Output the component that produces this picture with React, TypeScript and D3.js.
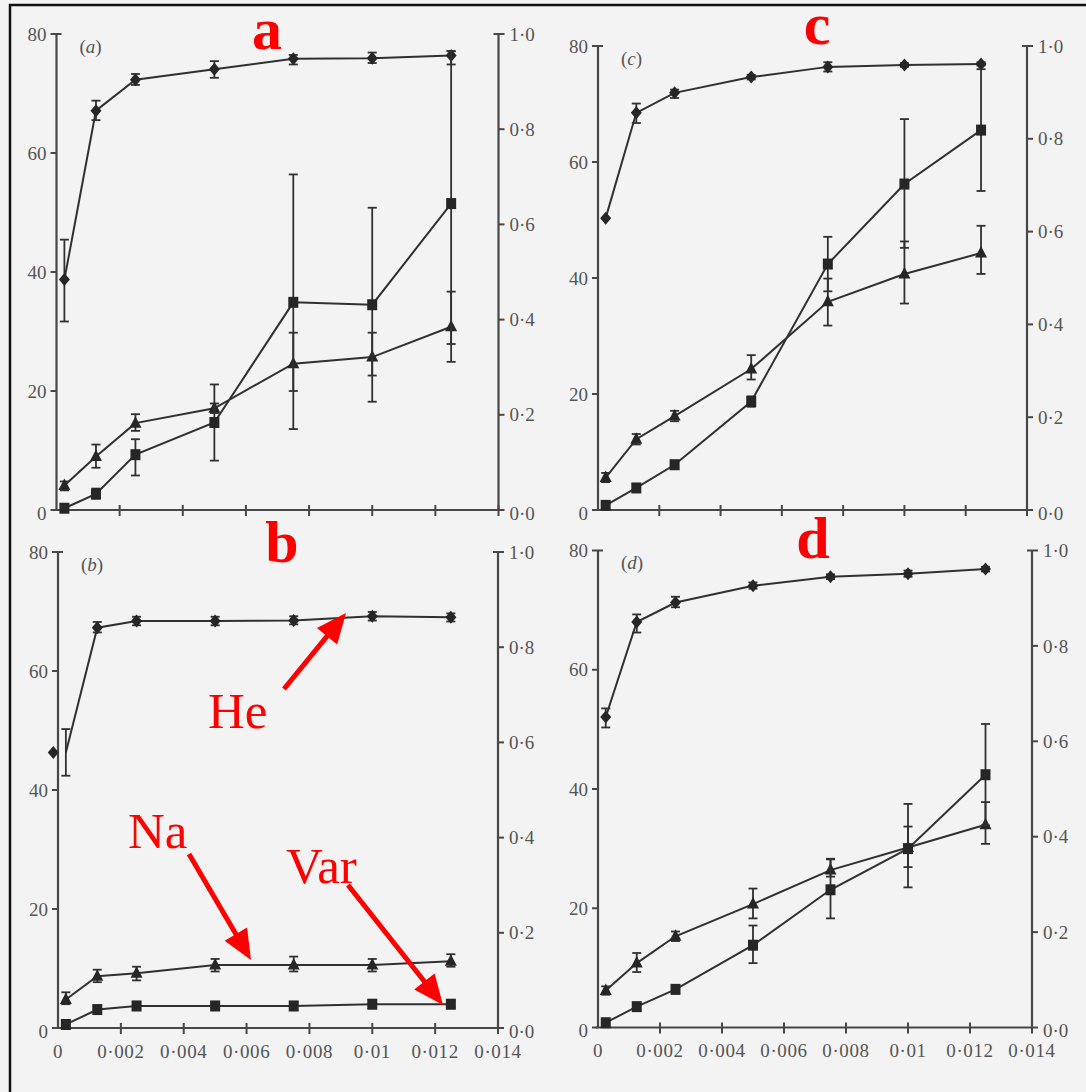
import React from "react";
import * as d3 from "d3";

// ---------- DATA ----------
const xValues = [0.00025, 0.00125, 0.0025, 0.005, 0.0075, 0.01, 0.0125];
const xTickValues = [0, 0.002, 0.004, 0.006, 0.008, 0.01, 0.012, 0.014];
const xTickLabels = ["0", "0·002", "0·004", "0·006", "0·008", "0·01", "0·012", "0·014"];
const leftTickValues = [0, 20, 40, 60, 80];
const leftTickLabels = ["0", "20", "40", "60", "80"];
const rightTickValues = [0, 0.2, 0.4, 0.6, 0.8, 1.0];
const rightTickLabels = ["0·0", "0·2", "0·4", "0·6", "0·8", "1·0"];

// He (right axis, 0-1), Na and Var (left axis, 0-80)
const heA = [0.484, 0.839, 0.904, 0.926, 0.948, 0.949, 0.955];
const heALo = [0.396, 0.819, 0.893, 0.908, 0.936, 0.939, 0.936];
const heAHi = [0.568, 0.86, 0.916, 0.943, 0.956, 0.961, 0.964];
const naA = [4.1, 9.0, 14.6, 17.1, 24.6, 25.7, 30.8];
const naALo = [3.3, 7.1, 13.3, 16.3, 20.0, 22.6, 24.9];
const naAHi = [4.8, 11.0, 16.1, 17.9, 29.8, 29.8, 36.7];
const varA = [0.3, 2.7, 9.3, 14.7, 34.9, 34.5, 51.5];
const varALo = [0, 1.9, 5.8, 8.3, 13.6, 18.2, 27.9];
const varAHi = [0.8, 3.6, 11.9, 21.1, 56.4, 50.8, 77.1];

const heB = [0.579, 0.841, 0.855, 0.855, 0.856, 0.865, 0.863];
const heBLo = [0.53, 0.831, 0.846, 0.846, 0.848, 0.856, 0.854];
const heBHi = [0.628, 0.853, 0.864, 0.864, 0.865, 0.874, 0.871];
const heBFirstMarkerX = -0.00015;
const naB = [4.8, 8.7, 9.2, 10.6, 10.6, 10.6, 11.2];
const naBLo = [4.0, 7.7, 8.0, 9.5, 9.5, 9.5, 10.3];
const naBHi = [6.0, 9.8, 10.3, 11.6, 12.0, 11.6, 12.4];
const varB = [0.6, 3.1, 3.7, 3.7, 3.7, 4.0, 4.0];
const varBLo = [0.1, 2.5, 3.0, 3.0, 3.0, 3.3, 3.3];
const varBHi = [1.1, 3.7, 4.4, 4.4, 4.4, 4.7, 4.7];

const heC = [0.629, 0.856, 0.899, 0.933, 0.955, 0.959, 0.961];
const heCLo = [0.629, 0.834, 0.888, 0.928, 0.945, 0.955, 0.958];
const heCHi = [0.629, 0.876, 0.906, 0.938, 0.965, 0.963, 0.965];
const naC = [5.6, 12.2, 16.2, 24.3, 35.9, 40.7, 44.3];
const naCLo = [4.8, 11.3, 15.3, 22.5, 31.8, 35.6, 40.7];
const naCHi = [6.4, 13.1, 17.1, 26.7, 39.9, 46.3, 49.0];
const varC = [0.8, 3.8, 7.8, 18.7, 42.4, 56.2, 65.5];
const varCLo = [0.2, 3.2, 7.1, 17.8, 37.7, 45.2, 55.0];
const varCHi = [1.4, 4.4, 8.5, 19.6, 47.1, 67.4, 76.0];

const heD = [0.651, 0.85, 0.891, 0.926, 0.945, 0.951, 0.961];
const heDLo = [0.629, 0.828, 0.881, 0.92, 0.94, 0.945, 0.956];
const heDHi = [0.669, 0.866, 0.903, 0.933, 0.95, 0.958, 0.966];
const naD = [6.2, 10.8, 15.3, 20.7, 26.4, 30.2, 34.0];
const naDLo = [5.5, 9.3, 14.5, 18.3, 25.3, 26.9, 30.8];
const naDHi = [6.9, 12.5, 16.1, 23.3, 28.3, 33.7, 37.8];
const varD = [0.8, 3.5, 6.4, 13.8, 23.1, 30.0, 42.4];
const varDLo = [0.2, 2.9, 5.7, 10.8, 18.3, 23.5, 33.9];
const varDHi = [1.4, 4.1, 7.1, 17.1, 28.2, 37.5, 50.9];

const panelNames = ["a", "b", "c", "d"];

// ---------- LAYOUT ----------
const W = 1086;
const H = 1092;
const INK = "#303030";
const AXIS = "#474747";
const TXT = "#555555";
const RED = "#ff0000";
const SERIF = "'Liberation Serif', 'Times New Roman', serif";

type Series = { kind: "he" | "na" | "var"; v: number[]; lo: number[]; hi: number[]; firstMarkerX?: number };

const panelSeries: Record<string, Series[]> = {
  a: [
    { kind: "he", v: heA, lo: heALo, hi: heAHi },
    { kind: "na", v: naA, lo: naALo, hi: naAHi },
    { kind: "var", v: varA, lo: varALo, hi: varAHi },
  ],
  b: [
    { kind: "he", v: heB, lo: heBLo, hi: heBHi, firstMarkerX: heBFirstMarkerX },
    { kind: "na", v: naB, lo: naBLo, hi: naBHi },
    { kind: "var", v: varB, lo: varBLo, hi: varBHi },
  ],
  c: [
    { kind: "he", v: heC, lo: heCLo, hi: heCHi },
    { kind: "na", v: naC, lo: naCLo, hi: naCHi },
    { kind: "var", v: varC, lo: varCLo, hi: varCHi },
  ],
  d: [
    { kind: "he", v: heD, lo: heDLo, hi: heDHi },
    { kind: "na", v: naD, lo: naDLo, hi: naDHi },
    { kind: "var", v: varD, lo: varDLo, hi: varDHi },
  ],
};

const geom: Record<string, { x0: number; x1: number; yTop: number; yBot: number; showX: boolean; red: [number, number] }> = {
  a: { x0: 56.5, x1: 498.5, yTop: 34, yBot: 510, showX: false, red: [267, 49] },
  b: { x0: 58, x1: 498, yTop: 552, yBot: 1028, showX: true, red: [282, 562] },
  c: { x0: 598, x1: 1027, yTop: 46, yBot: 510, showX: false, red: [817, 44] },
  d: { x0: 598, x1: 1032, yTop: 550.5, yBot: 1027.5, showX: true, red: [813, 558] },
};

const annotations = [
  { text: "He", tx: 208, ty: 728, from: [284, 689], to: [346, 613] },
  { text: "Na", tx: 128, ty: 848, from: [189, 854], to: [251, 960] },
  { text: "Var", tx: 286, ty: 883, from: [348, 885], to: [443, 1005] },
];

function markerPath(kind: string, cx: number, cy: number) {
  if (kind === "he") {
    return `M${cx},${cy - 6.5}L${cx + 5.5},${cy}L${cx},${cy + 6.5}L${cx - 5.5},${cy}Z`;
  }
  if (kind === "var") {
    return `M${cx - 5},${cy - 5.5}h10v11h-10Z`;
  }
  return `M${cx},${cy - 7}L${cx + 6},${cy + 4.5}L${cx - 6},${cy + 4.5}Z`;
}

function Panel({ name }: { name: string }) {
  const g = geom[name];
  const x = d3.scaleLinear().domain([0, 0.014]).range([g.x0, g.x1]);
  const yL = d3.scaleLinear().domain([0, 80]).range([g.yBot, g.yTop]);
  const yR = d3.scaleLinear().domain([0, 1]).range([g.yBot, g.yTop]);
  const series = panelSeries[name];
  const lineGen = (ys: d3.ScaleLinear<number, number>) =>
    d3
      .line<number>()
      .x((_, i) => x(xValues[i]))
      .y((v) => ys(v));

  return (
    <g>
      {/* axes */}
      <line x1={g.x0} x2={g.x0} y1={g.yTop} y2={g.yBot} stroke={AXIS} strokeWidth={2.2} />
      <line x1={g.x1} x2={g.x1} y1={g.yTop} y2={g.yBot} stroke={AXIS} strokeWidth={2.2} />
      <line x1={g.x0 - 2} x2={g.x1} y1={g.yBot} y2={g.yBot} stroke={AXIS} strokeWidth={2.2} />
      {leftTickValues.map((t, i) => (
        <g key={"l" + t}>
          <line
            x1={g.x0 - 6}
            x2={i === leftTickValues.length - 1 ? g.x0 + 5 : g.x0}
            y1={yL(t)}
            y2={yL(t)}
            stroke={AXIS}
            strokeWidth={2}
          />
          <text x={g.x0 - 10} y={yL(t) + (t === 0 ? 3 : 0)} dy="0.35em" textAnchor="end" fontFamily={SERIF} fontSize={19} fill={TXT}>
            {leftTickLabels[i]}
          </text>
        </g>
      ))}
      {rightTickValues.map((t, i) => (
        <g key={"r" + t}>
          <line
            x1={i === rightTickValues.length - 1 ? g.x1 - 5 : g.x1}
            x2={g.x1 + 6}
            y1={yR(t)}
            y2={yR(t)}
            stroke={AXIS}
            strokeWidth={2}
          />
          <text x={g.x1 + 11} y={yR(t) + (t === 0 ? 3 : 0)} dy="0.35em" textAnchor="start" fontFamily={SERIF} fontSize={19} fill={TXT}>
            {rightTickLabels[i]}
          </text>
        </g>
      ))}
      {xTickValues.slice(1).map((t) => (
        <line key={"x" + t} x1={x(t)} x2={x(t)} y1={g.yBot - 5} y2={g.yBot + 6} stroke={AXIS} strokeWidth={2} />
      ))}
      {g.showX &&
        xTickValues.map((t, i) => (
          <text
            key={"xl" + t}
            x={x(t)}
            y={g.yBot + 23}
            dy="0.35em"
            textAnchor="middle"
            fontFamily={SERIF}
            fontSize={19}
            letterSpacing={0.6}
            fill={TXT}
          >
            {xTickLabels[i]}
          </text>
        ))}
      <text x={g.x0 + 23} y={g.yTop + 12} dy="0.35em" fontFamily={SERIF} fontSize={19} fill={TXT}>
        (<tspan fontStyle="italic">{name}</tspan>)
      </text>

      {/* series */}
      {series.map((s) => {
        const ys = s.kind === "he" ? yR : yL;
        return (
          <g key={s.kind}>
            <path d={lineGen(ys)(s.v) || ""} fill="none" stroke={INK} strokeWidth={2} />
            {s.v.map((_, i) => {
              const cx = x(xValues[i]);
              const lo = ys(s.lo[i]);
              const hi = ys(s.hi[i]);
              return (
                <g key={i}>
                  <line x1={cx} x2={cx} y1={lo} y2={hi} stroke={INK} strokeWidth={1.8} />
                  <line x1={cx - 4.5} x2={cx + 4.5} y1={lo} y2={lo} stroke={INK} strokeWidth={1.8} />
                  <line x1={cx - 4.5} x2={cx + 4.5} y1={hi} y2={hi} stroke={INK} strokeWidth={1.8} />
                </g>
              );
            })}
            {s.v.map((v, i) => {
              const mx = i === 0 && s.firstMarkerX !== undefined ? s.firstMarkerX : xValues[i];
              return <path key={"m" + i} d={markerPath(s.kind, x(mx), ys(v))} fill="#262626" />;
            })}
          </g>
        );
      })}

      <text x={g.red[0]} y={g.red[1]} textAnchor="middle" fontFamily={SERIF} fontWeight="bold" fontSize={60} fill={RED}>
        {name}
      </text>
    </g>
  );
}

function Arrow({ from, to }: { from: number[]; to: number[] }) {
  const dx = to[0] - from[0];
  const dy = to[1] - from[1];
  const len = Math.hypot(dx, dy);
  const ux = dx / len;
  const uy = dy / len;
  const headLen = 30;
  const half = 13;
  const bx = to[0] - ux * headLen;
  const by = to[1] - uy * headLen;
  const px = -uy;
  const py = ux;
  return (
    <g>
      <line x1={from[0]} y1={from[1]} x2={bx + ux * 2} y2={by + uy * 2} stroke={RED} strokeWidth={5} />
      <path d={`M${to[0]},${to[1]}L${bx + px * half},${by + py * half}L${bx - px * half},${by - py * half}Z`} fill={RED} />
    </g>
  );
}

export default function App() {
  return (
    <svg width={W} height={H} style={{ position: "absolute", left: 0, top: 0, display: "block" }}>
      <rect x={0} y={0} width={W} height={H} fill="#f3f3f3" />
      <path d={`M10,${H}L10,5L${W},5`} fill="none" stroke="#111" strokeWidth={2.5} />
      {panelNames.map((n) => (
        <Panel key={n} name={n} />
      ))}
      {annotations.map((a) => (
        <g key={a.text}>
          <text x={a.tx} y={a.ty} fontFamily={SERIF} fontSize={51} fill={RED}>
            {a.text}
          </text>
          <Arrow from={a.from} to={a.to} />
        </g>
      ))}
    </svg>
  );
}
